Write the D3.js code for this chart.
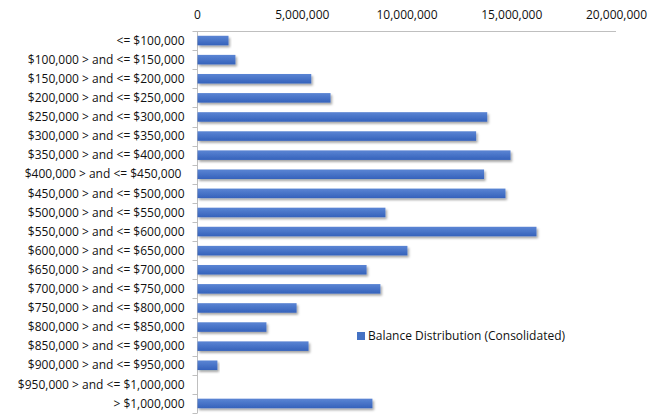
<!DOCTYPE html>
<html>
<head>
<meta charset="utf-8">
<script src="https://cdn.jsdelivr.net/npm/d3@7"></script>
<style>
  body { margin: 0; background: #fff; }
  text { font-family: "Open Sans", "Noto Sans", sans-serif; fill: #111; }
</style>
</head>
<body>
<svg></svg>
<script>
const categories = [
    "<= $100,000",
    "$100,000 > and <= $150,000",
    "$150,000 > and <= $200,000",
    "$200,000 > and <= $250,000",
    "$250,000 > and <= $300,000",
    "$300,000 > and <= $350,000",
    "$350,000 > and <= $400,000",
    "$400,000 > and <= $450,000 ",
    "$450,000 > and <= $500,000",
    "$500,000 > and <= $550,000",
    "$550,000 > and <= $600,000",
    "$600,000 > and <= $650,000",
    "$650,000 > and <= $700,000",
    "$700,000 > and <= $750,000",
    "$750,000 > and <= $800,000",
    "$800,000 > and <= $850,000",
    "$850,000 > and <= $900,000",
    "$900,000 > and <= $950,000",
    "$950,000 > and <= $1,000,000",
    "> $1,000,000"
];
const balances = [
    1480000, 1810000, 5430000, 6350000, 13830000, 13300000, 14940000, 13680000,
    14700000, 8970000, 16180000, 10020000, 8070000, 8730000, 4730000, 3290000,
    5300000, 950000, 0, 8350000
];
const xTicks = [0, 5000000, 10000000, 15000000, 20000000];
const seriesName = "Balance Distribution (Consolidated)";

drawChart();

function drawChart(){
    const width = 657;
    const height = 415;

    const svg = d3.select("svg")
                    .attr("width", width)
                    .attr("height", height);

    const defs = svg.append("defs");
    const grad = defs.append("linearGradient")
                    .attr("id", "barGrad")
                    .attr("x1", 0).attr("y1", 0).attr("x2", 0).attr("y2", 1);
    grad.append("stop").attr("offset", "0%").attr("stop-color", "#5b85d4");
    grad.append("stop").attr("offset", "100%").attr("stop-color", "#3562bb");

    defs.append("filter")
        .attr("id", "shadow")
        .attr("x", "-5%").attr("y", "-50%").attr("width", "115%").attr("height", "250%")
        .append("feDropShadow")
        .attr("dx", 1.5).attr("dy", 2).attr("stdDeviation", 1)
        .attr("flood-color", "#000").attr("flood-opacity", 0.35);

    //scales
    const xScale = d3.scaleLinear()
                        .domain([0, 20000000])
                        .range([197, 616]);

    const yScale = d3.scaleBand()
                        .domain(categories)
                        .range([31, 413])
                        .paddingInner(0.5)
                        .paddingOuter(0.25);

    const fmt = d3.format(",");

    // top axis, no tick marks
    const xAxis = d3.axisTop(xScale)
                    .tickValues(xTicks)
                    .tickFormat(d => fmt(d))
                    .tickSize(0)
                    .tickPadding(12);

    const gx = svg.append("g")
        .attr("transform", "translate(0, 31)")
        .call(xAxis);
    gx.select(".domain").attr("stroke", "#bfbfbf").attr("d", "M193,0.5H616");
    gx.selectAll("text").style("font-size", "12px").attr("fill", "#111");

    // left axis with ticks at band boundaries
    const gy = svg.append("g").attr("transform", "translate(197.5, 0)");
    gy.append("line")
        .attr("x1", 0).attr("x2", 0)
        .attr("y1", 31).attr("y2", 413)
        .attr("stroke", "#bfbfbf");
    const step = yScale.step();
    gy.selectAll(".tick")
        .data(d3.range(categories.length + 1))
        .enter()
        .append("line")
        .attr("x1", -5).attr("x2", 0)
        .attr("y1", i => Math.round(31 + i * step) + 0.5)
        .attr("y2", i => Math.round(31 + i * step) + 0.5)
        .attr("stroke", "#bfbfbf");

    gy.selectAll(".label")
        .data(categories)
        .enter()
        .append("text")
        .attr("x", -13)
        .attr("y", d => yScale(d) + yScale.bandwidth() / 2)
        .attr("dy", "0.35em")
        .attr("text-anchor", "end")
        .style("font-size", "12px")
        .style("white-space", "pre")
        .text(d => d);

    // bars (empty bin drawn with zero width)
    svg.selectAll("rect.bar")
        .data(balances)
        .enter()
        .append("rect")
        .attr("class", "bar")
        .attr("x", xScale(0) + 0.5)
        .attr("y", (d, i) => yScale(categories[i]))
        .attr("width", d => xScale(d) - xScale(0))
        .attr("height", yScale.bandwidth())
        .attr("fill", "url(#barGrad)")
        .attr("filter", "url(#shadow)");

    // legend
    const legend = svg.append("g").attr("transform", "translate(357, 332)");
    legend.append("rect")
        .attr("width", 8).attr("height", 8)
        .attr("fill", "#4472c4");
    legend.append("text")
        .attr("x", 11)
        .attr("y", 4)
        .attr("dy", "0.35em")
        .style("font-size", "12px")
        .text(seriesName);
}
</script>
</body>
</html>
